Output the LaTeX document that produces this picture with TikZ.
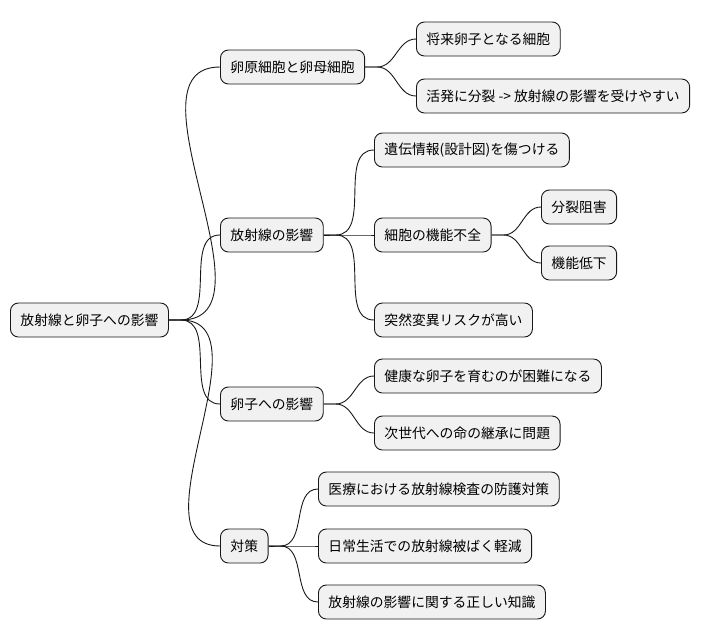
\documentclass[tikz,border=0pt]{standalone}
\usepackage{fontspec}
\setmainfont{Noto Sans CJK JP}
\definecolor{nodefill}{HTML}{F1F1F1}
\definecolor{edge}{HTML}{181818}
\begin{document}
\begin{tikzpicture}[x=1pt,y=-1pt,
  box/.style={draw=edge,fill=nodefill,rounded corners=8pt,line width=0.9pt,minimum height=34pt,inner xsep=10pt,anchor=west,font=\fontsize{13.8pt}{15pt}\selectfont},
  link/.style={draw=edge,line width=0.9pt}]
\useasboundingbox (0,0) rectangle (710,640);
\node[box] (r) at (10,320) {放射線と卵子への影響};
\node[box] (a) at (220,67) {卵原細胞と卵母細胞};
\node[box] (a1) at (416,39) {将来卵子となる細胞};
\node[box] (a2) at (416,96) {活発に分裂 -> 放射線の影響を受けやすい};
\node[box] (b) at (220,235) {放射線の影響};
\node[box] (b1) at (374,150) {遺伝情報(設計図)を傷つける};
\node[box] (b2) at (374,235) {細胞の機能不全};
\node[box] (b21) at (541,207) {分裂阻害};
\node[box] (b22) at (541,263) {機能低下};
\node[box] (b3) at (374,320) {突然変異リスクが高い};
\node[box] (c) at (220,404) {卵子への影響};
\node[box] (c1) at (374,376) {健康な卵子を育むのが困難になる};
\node[box] (c2) at (374,433) {次世代への命の継承に問題};
\node[box] (d) at (220,546) {対策};
\node[box] (d1) at (318,489) {医療における放射線検査の防護対策};
\node[box] (d2) at (318,546) {日常生活での放射線被ばく軽減};
\node[box] (d3) at (318,602) {放射線の影響に関する正しい知識};
\foreach \p/\c in {r/a,r/b,r/c,r/d,a/a1,a/a2,b/b1,b/b2,b/b3,b2/b21,b2/b22,c/c1,c/c2,d/d1,d/d2,d/d3}{
  \draw[link] (\p.east) -- ++(12,0) to[out=0,in=180] (\c.west);
}
\end{tikzpicture}
\end{document}
